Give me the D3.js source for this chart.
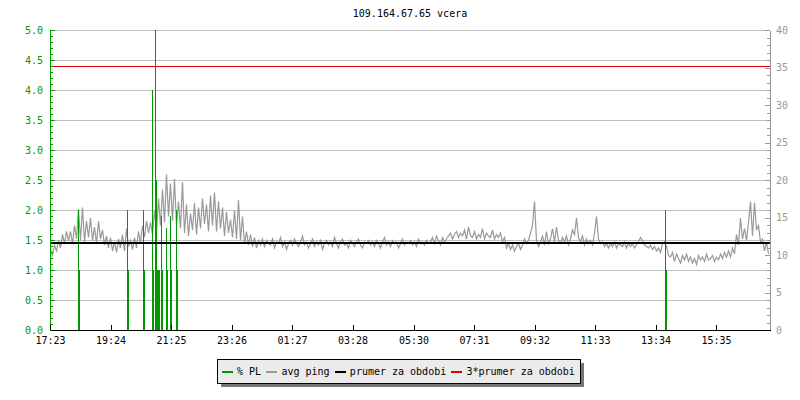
<!DOCTYPE html>
<html><head><meta charset="utf-8">
<script src="https://cdn.jsdelivr.net/npm/d3@7"></script>
<style>
body{margin:0;background:#fff;}
svg{display:block;font-family:"DejaVu Sans Mono",monospace;font-size:10px;}
</style></head>
<body><svg id="c" width="800" height="400"></svg>
<script>
const title = "109.164.67.65 vcera";
const startTime = "17:23";
const stepMinutes = 4;
// avg ping (ms, right axis), one value every 4 minutes from 17:23
const avgPing = [
10.8,10.0,11.4,10.6,12.0,11.0,12.8,11.6,13.2,12.0,
13.2,11.6,14.0,12.2,16.2,12.0,16.4,11.8,14.6,12.4,
15.0,12.0,13.8,11.6,14.6,12.2,13.4,11.4,12.6,11.0,
12.4,10.6,11.8,10.4,12.2,11.0,12.8,10.6,13.6,11.2,
12.0,10.8,12.4,11.0,13.2,11.6,14.0,12.4,14.6,13.0,
14.4,12.8,16.0,13.2,17.6,14.0,18.8,14.4,20.8,15.2,
19.6,14.6,20.2,14.0,17.2,13.6,19.8,13.0,16.8,12.6,
15.6,13.4,17.0,12.8,16.4,13.6,17.6,14.2,16.8,13.2,
18.0,14.0,18.4,13.2,17.2,13.6,16.4,12.6,15.8,13.0,
14.8,12.4,16.0,12.2,17.4,12.0,15.2,11.6,13.2,11.4,
12.8,11.2,12.4,11.0,12.0,11.4,12.2,11.2,12.0,11.6,
11.4,12.2,11.0,11.8,11.6,12.4,11.2,11.8,10.8,11.6,
12.0,11.4,12.2,11.6,11.2,11.8,12.6,11.4,11.8,11.0,
11.6,12.2,11.2,11.8,11.4,12.0,10.8,11.6,12.0,11.4,
11.8,11.2,12.4,11.6,11.0,11.8,12.2,11.4,11.6,11.0,
12.0,11.6,11.2,11.8,12.2,11.4,11.0,11.8,11.6,12.0,
11.4,11.8,11.2,12.0,11.6,11.0,11.8,12.4,11.4,11.8,
11.2,12.0,11.6,11.8,11.0,11.6,12.2,11.4,11.8,11.6,
12.0,11.4,11.8,11.2,12.2,11.6,11.8,11.4,12.0,11.6,
11.8,12.4,11.6,12.6,12.0,11.4,12.4,11.8,12.2,12.6,
13.0,12.2,12.8,13.2,12.4,13.0,12.6,13.4,12.2,13.8,
12.6,12.4,13.2,12.2,12.8,12.4,13.6,12.2,13.0,12.6,
12.4,13.4,12.2,12.8,12.4,13.0,11.8,12.4,11.0,11.6,
10.8,11.4,10.6,11.2,11.6,10.8,11.4,12.2,11.6,12.0,
13.0,14.0,17.2,12.0,11.2,11.8,12.6,11.4,13.2,11.6,
12.2,13.6,11.8,13.8,12.0,11.6,12.4,11.8,12.6,11.4,
12.2,13.4,12.8,15.0,12.4,11.8,12.6,11.4,12.2,11.6,
12.0,11.4,13.0,15.2,12.2,11.6,11.8,11.2,11.6,11.0,
11.6,11.2,11.8,11.0,11.6,11.4,11.2,11.8,11.0,11.6,
11.2,11.6,11.0,11.4,11.8,12.4,12.0,11.4,11.2,11.0,
11.4,10.8,11.2,10.6,11.0,10.4,11.6,11.8,11.2,10.0,
9.8,10.4,9.2,10.2,9.6,9.0,10.0,9.4,10.2,9.2,
9.8,9.0,9.6,8.8,10.0,9.4,9.8,9.2,10.2,9.4,
9.6,10.0,9.2,9.8,9.4,10.2,9.6,10.4,9.8,10.6,
9.8,11.0,10.2,12.8,11.4,15.0,12.2,13.6,12.0,14.4,
17.2,12.6,17.0,13.4,14.0,11.8,12.2,10.6,11.8,10.2
];
// packet loss (% , left axis)
const plTimes = ["18:18","19:56","20:28","20:46","20:52","20:54","20:58","21:05","21:14","21:22","21:35","13:52"];
const plPeak  = [2.0, 2.0, 2.0, 4.0, 5.0, 2.5, 1.0, 1.9, 1.7, 1.9, 2.0, 2.0];
const plBase  = [1.0, 1.0, 1.0, 1.0, 1.0, 1.0, 1.0, 1.0, 1.0, 1.0, 1.0, 1.0];
const meanPing = 11.72;
const triMeanPing = 35.16;
const xTickLabels = ["17:23","19:24","21:25","23:26","01:27","03:28","05:30","07:31","09:32","11:33","13:34","15:35"];
const leftTicks = [0,0.5,1,1.5,2,2.5,3,3.5,4,4.5,5];
const rightTicks = [0,5,10,15,20,25,30,35,40];
const legendItems = ["% PL","avg ping","prumer za obdobi","3*prumer za obdobi"];
const legendColors = ["#009900","#999999","#000000","#dd0000"];

function toDate(hm){
  const [h,m] = hm.split(":").map(Number);
  const [sh,sm] = startTime.split(":").map(Number);
  const d = new Date(2020,0,1,h,m);
  if (h*60+m < sh*60+sm) d.setDate(d.getDate()+1);
  return d;
}
const t0 = toDate(startTime);
const t1 = new Date(t0.getTime()+24*3600*1000);

const svg = d3.select("#c");
const x = d3.scaleTime().domain([t0,t1]).range([50,770]);
const yL = d3.scaleLinear().domain([0,5]).range([330,30]);
const yR = d3.scaleLinear().domain([0,40]).range([330,30]);

// title
svg.append("text").attr("x",410).attr("y",17).attr("text-anchor","middle").attr("fill","#000").text(title);

// grid
svg.append("g").selectAll("line").data(leftTicks.filter(d=>d>0)).join("line")
  .attr("x1",51).attr("x2",770).attr("y1",d=>yL(d)+0.5).attr("y2",d=>yL(d)+0.5)
  .attr("stroke","#c0c0c0").attr("shape-rendering","crispEdges");

const plot = svg.append("g");
plot.append("clipPath").attr("id","clip").append("rect").attr("x",51).attr("y",30).attr("width",719).attr("height",301);
const pg = plot.append("g").attr("clip-path","url(#clip)");

// avg ping
const pingData = avgPing.map((v,i)=>({t:new Date(t0.getTime()+i*stepMinutes*60000), v}));
pg.append("path").datum(pingData)
  .attr("d", d3.line().x(d=>x(d.t)+0.5).y(d=>yR(d.v)+0.5))
  .attr("fill","none").attr("stroke","#999999").attr("stroke-width",1.2);

// packet loss
const plData = plTimes.map((t,i)=>({t:toDate(t), peak:plPeak[i], base:plBase[i]}));
pg.append("g").selectAll("line").data(plData).join("line")
  .attr("x1",d=>Math.round(x(d.t))+0.5).attr("x2",d=>Math.round(x(d.t))+0.5)
  .attr("y1",yL(0)+1).attr("y2",d=>yL(d.peak))
  .attr("stroke","#009900").attr("stroke-width",1).attr("shape-rendering","crispEdges");
pg.append("g").selectAll("rect").data(plData).join("rect")
  .attr("x",d=>Math.round(x(d.t))).attr("width",2)
  .attr("y",d=>yL(d.base)).attr("height",d=>yL(0)-yL(d.base)+1)
  .attr("fill","#009900").attr("shape-rendering","crispEdges");

// mean lines
pg.append("line").attr("x1",51).attr("x2",770).attr("y1",Math.round(yR(meanPing))+1).attr("y2",Math.round(yR(meanPing))+1)
  .attr("stroke","#000").attr("stroke-width",2).attr("shape-rendering","crispEdges");
pg.append("line").attr("x1",51).attr("x2",770).attr("y1",Math.round(yR(triMeanPing))+0.5).attr("y2",Math.round(yR(triMeanPing))+0.5)
  .attr("stroke","#dd0000").attr("stroke-width",1).attr("shape-rendering","crispEdges");

// left axis
const gl = svg.append("g").attr("transform","translate(50,0)");
gl.call(d3.axisLeft(yL).tickValues(d3.range(0,5.001,0.1)).tickSizeInner(-3).tickSizeOuter(0).tickFormat(""));
gl.selectAll(".tick text").remove();
const gl2 = svg.append("g").attr("transform","translate(50,0)");
gl2.call(d3.axisLeft(yL).tickValues(leftTicks).tickSizeInner(-5).tickSizeOuter(0).tickPadding(7).tickFormat(d3.format(".1f")));
[gl,gl2].forEach(g=>{
  g.selectAll("path,line").attr("stroke","#009900").attr("shape-rendering","crispEdges");
  g.attr("font-family",null).attr("font-size",null);
});
gl2.selectAll("text").attr("fill","#009900");

// right axis
const gr = svg.append("g").attr("transform","translate(770,0)");
gr.call(d3.axisRight(yR).tickValues(d3.range(0,41,1)).tickSizeInner(-3).tickSizeOuter(0).tickFormat(""));
gr.selectAll(".tick text").remove();
const gr2 = svg.append("g").attr("transform","translate(770,0)");
gr2.call(d3.axisRight(yR).tickValues(rightTicks).tickSizeInner(-5).tickSizeOuter(0).tickPadding(6));
[gr,gr2].forEach(g=>{
  g.selectAll("path,line").attr("stroke","#999999").attr("shape-rendering","crispEdges");
  g.attr("font-family",null).attr("font-size",null);
});
gr2.selectAll("text").attr("fill","#999999");

// bottom axis
const tickDates = xTickLabels.map(toDate);
const gb = svg.append("g").attr("transform","translate(0,330)");
gb.call(d3.axisBottom(x).tickValues(tickDates).tickSizeInner(-5).tickSizeOuter(0).tickPadding(7)
  .tickFormat((d,i)=>xTickLabels[i]));
gb.selectAll("path,line").attr("stroke","#000").attr("shape-rendering","crispEdges");
gb.selectAll("text").attr("fill","#000");
gb.attr("font-family",null).attr("font-size",null);

// legend
const lg = svg.append("g");
lg.append("rect").attr("x",220.5).attr("y",362.5).attr("width",363).attr("height",24).attr("fill","#777").attr("shape-rendering","crispEdges");
lg.append("rect").attr("x",217.5).attr("y",359.5).attr("width",363).attr("height",24).attr("fill","#ebebeb").attr("stroke","#000").attr("shape-rendering","crispEdges");
let lx = 222;
legendItems.forEach((name,i)=>{
  lg.append("line").attr("x1",lx).attr("x2",lx+11).attr("y1",372).attr("y2",372)
    .attr("stroke",legendColors[i]).attr("stroke-width",2).attr("shape-rendering","crispEdges");
  const t = lg.append("text").attr("x",lx+15).attr("y",374.5).attr("fill","#000").text(name);
  const w = t.node().getComputedTextLength();
  lx = lx + 15 + w + 5.3;
});
</script></body></html>
